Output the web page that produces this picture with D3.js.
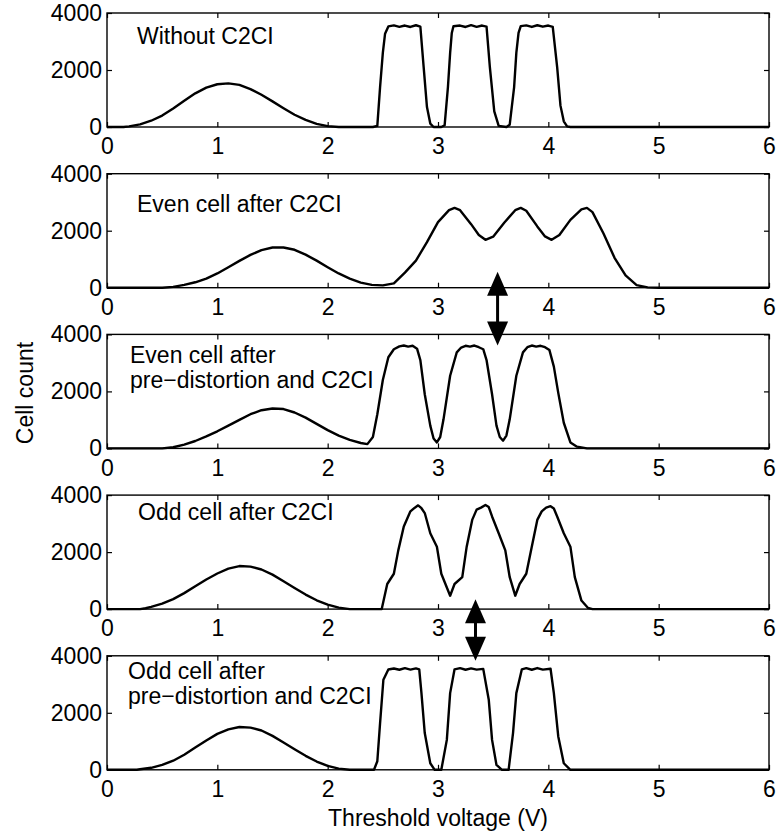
<!DOCTYPE html>
<html>
<head>
<meta charset="utf-8">
<script src="https://cdn.jsdelivr.net/npm/d3@7"></script>
<style>
  body { margin: 0; background: #fff; }
  svg { display: block; font-family: "Liberation Sans", Arial, sans-serif; }
  .tick text { font-size: 23px; fill: #000; }
  .tick line { stroke: #000; stroke-width: 1.2; }
  .frame { fill: none; stroke: #000; stroke-width: 1.4; }
  .curve { fill: none; stroke: #000; stroke-width: 2.4; stroke-linejoin: round; }
  .panelLabel, .axisLabel { font-size: 23px; fill: #000; }
</style>
</head>
<body>
<svg width="777" height="834"></svg>
<script>
//ticks shared by all five panels
const voltTicks = [0, 1, 2, 3, 4, 5, 6];
const countTicks = [0, 2000, 4000];

//panel titles, one array of lines per panel
const panelTitles = [
  ["Without C2CI"],
  ["Even cell after C2CI"],
  ["Even cell after", "pre\u2212distortion and C2CI"],
  ["Odd cell after C2CI"],
  ["Odd cell after", "pre\u2212distortion and C2CI"]
];

//threshold voltage (V) and cell count per panel
const volts1 = [0, 0.15, 0.2, 0.3, 0.4, 0.5, 0.6, 0.7, 0.8, 0.9, 1.0, 1.1, 1.2, 1.3, 1.4, 1.5, 1.6, 1.7, 1.8, 1.9, 2.0, 2.1,
  2.41, 2.45, 2.475, 2.5, 2.52, 2.55, 2.6, 2.65, 2.7, 2.75, 2.8, 2.84, 2.87, 2.9, 2.93, 2.96,
  3.03, 3.06, 3.09, 3.11, 3.125, 3.14, 3.2, 3.25, 3.3, 3.35, 3.4, 3.44, 3.47, 3.51, 3.55,
  3.62, 3.65, 3.69, 3.71, 3.73, 3.75, 3.8, 3.85, 3.9, 3.95, 4.0, 4.04, 4.08, 4.11, 4.14, 4.17, 4.2, 6];
const counts1 = [0, 0, 20, 90, 220, 400, 650, 920, 1180, 1380, 1500, 1530, 1480, 1330, 1130, 900, 660, 430, 250, 110, 30, 0,
  0, 40, 1400, 2600, 3270, 3530, 3565, 3515, 3560, 3510, 3570, 3520, 2100, 700, 120, 0,
  0, 60, 1400, 2600, 3300, 3535, 3560, 3510, 3575, 3515, 3560, 3520, 2100, 550, 40,
  0, 80, 1400, 2600, 3300, 3540, 3565, 3510, 3570, 3520, 3560, 3515, 2100, 750, 200, 20, 0, 0];

const volts2 = [0, 0.5, 0.6, 0.7, 0.8, 0.9, 1.0, 1.1, 1.2, 1.3, 1.4, 1.5, 1.6, 1.7, 1.8, 1.9, 2.0,
  2.1, 2.2, 2.3, 2.4, 2.5, 2.6, 2.7, 2.8, 2.9, 3.0, 3.1,
  3.15, 3.2, 3.3, 3.37, 3.43, 3.5, 3.6, 3.7, 3.75, 3.8, 3.9, 3.97, 4.03, 4.1, 4.2, 4.3, 4.35, 4.4, 4.5, 4.6, 4.7, 4.8, 4.9, 5.0, 6];
const counts2 = [0, 0, 30, 100, 190, 320, 500, 720, 940, 1150, 1320, 1410, 1410, 1330, 1160, 950, 720,
  500, 320, 180, 100, 80, 150, 530, 950, 1600, 2300, 2720,
  2800, 2720, 2230, 1850, 1680, 1790, 2280, 2720, 2800, 2700, 2150, 1800, 1680, 1850, 2380, 2750, 2800, 2650, 1900, 1050, 430, 90, 10, 0, 0];

const volts3 = [0, 0.5, 0.6, 0.7, 0.8, 0.9, 1.0, 1.1, 1.2, 1.3, 1.4, 1.5, 1.6, 1.7, 1.8, 1.9, 2.0, 2.1, 2.2, 2.3,
  2.36, 2.41, 2.45, 2.5, 2.55, 2.6, 2.65, 2.69, 2.73, 2.77, 2.81, 2.84, 2.88, 2.93, 2.96, 2.99,
  3.02, 3.05, 3.11, 3.17, 3.21, 3.25, 3.29, 3.33, 3.37, 3.41, 3.44, 3.49, 3.53, 3.56, 3.59,
  3.62, 3.65, 3.71, 3.77, 3.81, 3.85, 3.89, 3.93, 3.97, 4.01, 4.05, 4.09, 4.14, 4.2, 4.26, 4.35, 6];
const counts3 = [0, 0, 40, 130, 260, 420, 600, 800, 1000, 1200, 1340, 1400, 1380, 1260, 1080, 860, 640, 450, 300, 190,
  150, 400, 1200, 2400, 3200, 3480, 3580, 3610, 3570, 3600, 3500, 3100, 1900, 800, 350, 210,
  400, 1020, 2550, 3370, 3540, 3600, 3570, 3610, 3550, 3480, 3100, 1900, 800, 400, 270,
  450, 1020, 2550, 3370, 3550, 3610, 3570, 3600, 3550, 3450, 2870, 1950, 900, 210, 60, 0, 0];

const volts4 = [0, 0.3, 0.35, 0.4, 0.5, 0.6, 0.7, 0.8, 0.9, 1.0, 1.1, 1.2, 1.3, 1.4, 1.5, 1.6, 1.7, 1.8, 1.9, 2.0, 2.1, 2.2,
  2.49, 2.54, 2.6, 2.64, 2.69, 2.75, 2.79, 2.82, 2.85, 2.88, 2.93, 2.99, 3.03, 3.11,
  3.15, 3.22, 3.26, 3.31, 3.35, 3.39, 3.43, 3.46, 3.49, 3.55, 3.61, 3.65, 3.7,
  3.74, 3.8, 3.85, 3.9, 3.94, 3.98, 4.02, 4.05, 4.08, 4.14, 4.2, 4.24, 4.3, 4.36, 4.4, 6];
const counts4 = [0, 0, 30, 80, 190, 350, 560, 800, 1040, 1250, 1420, 1510, 1490, 1390, 1210, 980, 740, 510, 310, 160, 50, 0,
  0, 880, 1240, 2060, 2900, 3430, 3560, 3640, 3540, 3370, 2660, 2190, 1240, 470,
  880, 1120, 2190, 3130, 3490, 3560, 3650, 3580, 3250, 2660, 2060, 1120, 470,
  880, 1240, 2190, 3130, 3430, 3560, 3610, 3530, 3250, 2660, 2190, 1120, 300, 40, 0, 0];

const volts5 = [0, 0.27, 0.3, 0.4, 0.5, 0.6, 0.7, 0.8, 0.9, 1.0, 1.1, 1.2, 1.3, 1.4, 1.5, 1.6, 1.7, 1.8, 1.9, 2.0, 2.1, 2.2,
  2.42, 2.45, 2.475, 2.505, 2.55, 2.6, 2.65, 2.7, 2.75, 2.8, 2.83, 2.85, 2.88, 2.93, 2.97,
  3.03, 3.08, 3.11, 3.15, 3.2, 3.25, 3.3, 3.35, 3.41, 3.46, 3.49, 3.53, 3.58,
  3.64, 3.68, 3.71, 3.76, 3.8, 3.85, 3.9, 3.95, 4.02, 4.05, 4.09, 4.14, 4.2, 6];
const counts5 = [0, 0, 20, 70, 170, 320, 530, 780, 1030, 1260, 1420, 1500, 1480, 1380, 1190, 960, 720, 490, 290, 140, 40, 0,
  0, 300, 1640, 3160, 3520, 3555, 3510, 3565, 3515, 3560, 3520, 2690, 1290, 230, 0,
  0, 1050, 2690, 3525, 3565, 3510, 3560, 3515, 3540, 2460, 1050, 170, 0,
  0, 1290, 2690, 3525, 3565, 3510, 3570, 3515, 3545, 2690, 1170, 230, 0, 0];

//double arrows: voltage, [panel, count] of the upper tip, [panel, count] of the lower tip
const arrowVolts = [3.54, 3.34];
const arrowFrom = [[1, 560], [3, 350]];
const arrowTo = [[2, 3610], [4, 3830]];

let svg = d3.select("svg"),
  left = 107,
  width = 662,
  topY = 13,
  panelHeight = 114,
  panelStep = 160.7;

//title position inside each panel (px from its top-left corner)
const titleOffsets = [[30, 31], [30, 38], [23, 28.5], [31, 25], [21, 23.5]];
const lineGap = 25;

let series = [
  d3.zip(volts1, counts1),
  d3.zip(volts2, counts2),
  d3.zip(volts3, counts3),
  d3.zip(volts4, counts4),
  d3.zip(volts5, counts5)
];

//XAxis, same for every panel
let xScale = d3.scaleLinear().domain([0, 6]).range([left, left + width]);

let yScales = series.map(function(s, i) {
  let y0 = topY + i * panelStep;
  return d3.scaleLinear().domain([0, 4000]).range([y0 + panelHeight, y0]);
});

series.forEach(function(s, i) {
  let yScale = yScales[i];
  let y0 = topY + i * panelStep;
  let g = svg.append("g").attr("class", "panel");

  //bottom axis with labels, ticks point inwards
  g.append("g")
    .attr("transform", "translate(0," + (y0 + panelHeight) + ")")
    .call(d3.axisBottom(xScale).tickValues(voltTicks).tickSize(-5).tickPadding(11).tickFormat(d3.format("d")));
  //top axis, ticks only
  g.append("g")
    .attr("transform", "translate(0," + y0 + ")")
    .call(d3.axisTop(xScale).tickValues(voltTicks).tickSize(-5).tickFormat(""));
  //left axis
  g.append("g")
    .attr("transform", "translate(" + left + ",0)")
    .call(d3.axisLeft(yScale).tickValues(countTicks).tickSize(-5).tickPadding(5).tickFormat(d3.format("d")));
  //right axis, ticks only
  g.append("g")
    .attr("transform", "translate(" + (left + width) + ",0)")
    .call(d3.axisRight(yScale).tickValues(countTicks).tickSize(-5).tickFormat(""));

  g.selectAll(".domain").remove();

  //the curve
  g.append("path")
    .datum(s)
    .attr("class", "curve")
    .attr("d", d3.line()
      .x(function(d) { return xScale(d[0]); })
      .y(function(d) { return yScale(d[1]); }));

  //box
  g.append("rect")
    .attr("class", "frame")
    .attr("x", left)
    .attr("y", y0)
    .attr("width", width)
    .attr("height", panelHeight);

  //panel title
  g.selectAll(".panelLabel")
    .data(panelTitles[i])
    .enter()
    .append("text")
    .attr("class", "panelLabel")
    .attr("x", left + titleOffsets[i][0])
    .attr("y", function(d, k) { return y0 + titleOffsets[i][1] + k * lineGap; })
    .text(function(d) { return d; });
});

//double arrows between panels
arrowVolts.forEach(function(v, i) {
  let x = xScale(v);
  let yTop = yScales[arrowFrom[i][0]](arrowFrom[i][1]);
  let yBot = yScales[arrowTo[i][0]](arrowTo[i][1]);
  let headLen = 24, headHalf = 10.5;
  let a = svg.append("g").attr("class", "arrow");
  a.append("line")
    .attr("x1", x).attr("x2", x)
    .attr("y1", yTop + headLen - 2).attr("y2", yBot - headLen + 2)
    .attr("stroke", "#000").attr("stroke-width", 3);
  a.append("path")
    .attr("d", "M" + x + "," + yTop + "L" + (x - headHalf) + "," + (yTop + headLen) + "L" + (x + headHalf) + "," + (yTop + headLen) + "Z")
    .attr("fill", "#000");
  a.append("path")
    .attr("d", "M" + x + "," + yBot + "L" + (x - headHalf) + "," + (yBot - headLen) + "L" + (x + headHalf) + "," + (yBot - headLen) + "Z")
    .attr("fill", "#000");
});

//axis titles
svg.append("text")
  .attr("class", "axisLabel")
  .attr("transform", "translate(33,393) rotate(-90)")
  .attr("text-anchor", "middle")
  .text("Cell count");

svg.append("text")
  .attr("class", "axisLabel")
  .attr("x", xScale(3))
  .attr("y", 826)
  .attr("text-anchor", "middle")
  .text("Threshold voltage (V)");
</script>
</body>
</html>
